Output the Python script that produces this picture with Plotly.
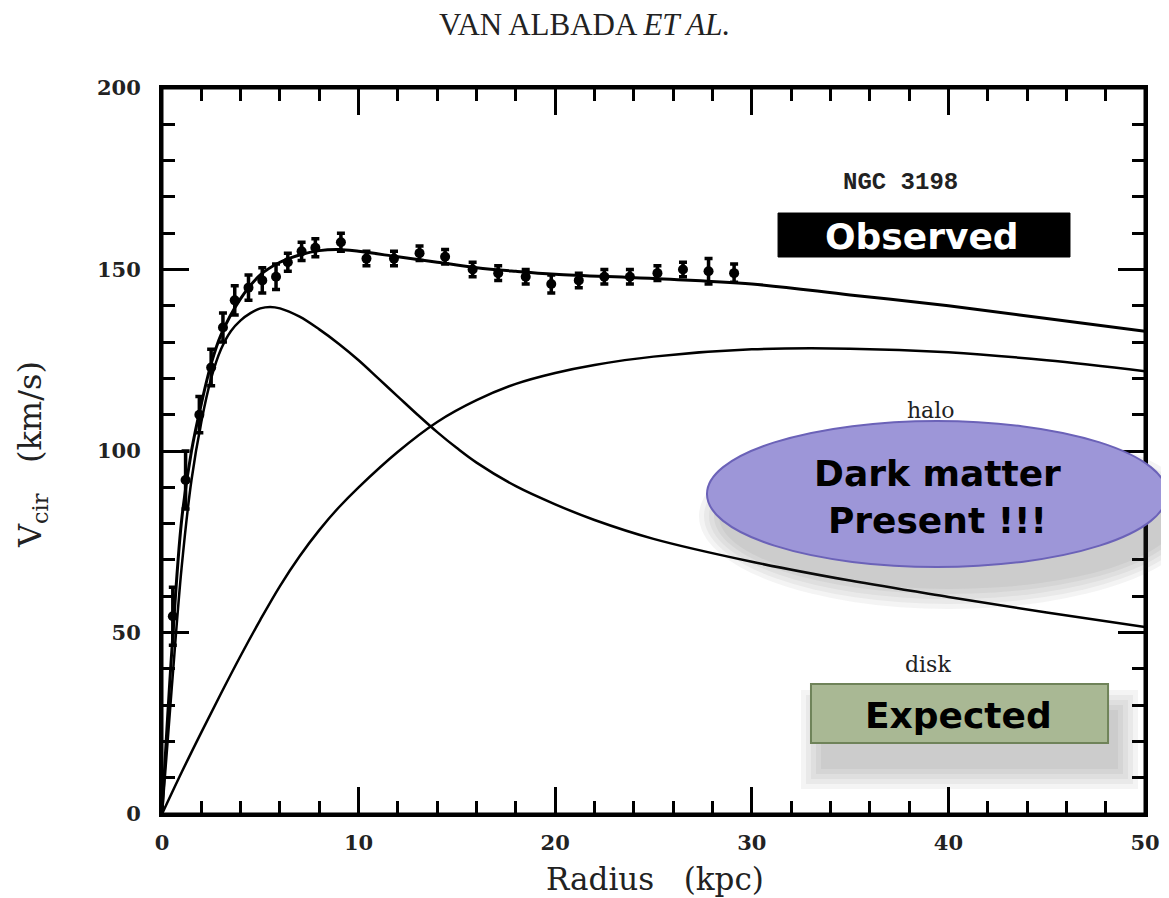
"""NGC 3198 rotation curve (van Albada et al.) with annotations."""

import plotly.graph_objects as go

# observed rotation velocities
r_obs = [0.55, 1.2, 1.9, 2.5, 3.1, 3.7, 4.4, 5.1, 5.8, 6.4, 7.1, 7.8, 9.1,
         10.4, 11.8, 13.1, 14.4, 15.8, 17.1, 18.5, 19.8, 21.2, 22.5, 23.8,
         25.2, 26.5, 27.8, 29.1]
v_obs = [54.5, 92, 110, 123, 134, 141.5, 145, 147, 148, 152, 155, 156, 157.5,
         153, 153, 154.5, 153.5, 150, 149, 148, 146, 147, 148, 148,
         149, 150, 149.5, 149]
v_err = [8, 8, 5, 5, 4, 4, 3.5, 3.5, 3.5, 2.5, 2.5, 2.5, 2.5,
         2, 2, 2, 2, 2, 2, 2, 2.5, 2, 2, 2,
         2, 2, 3.5, 2.5]

# model curves
r_fit = [0, 0.5, 1, 1.5, 2, 2.5, 3, 4, 5, 6, 7, 8, 9, 10, 12, 14, 16, 18, 20,
         25, 30, 35, 40, 45, 50]
v_fit = [0, 45, 81, 100, 113, 124, 132, 142, 148.5, 152, 154, 155.2, 155.5,
         155, 153.5, 152, 150.5, 149.5, 148.7, 147.5, 146, 143, 140, 136.5, 133]

r_disk = [0, 0.5, 1, 1.5, 2, 2.5, 3, 3.5, 4, 4.5, 5, 5.5, 6, 7, 8, 9, 10, 11,
          12, 13, 14, 15, 16, 18, 20, 22, 25, 30, 35, 40, 45, 50]
v_disk = [0, 35, 68, 92, 108, 120, 128, 133, 136, 138, 139.3, 139.7, 139.3,
          137, 133.5, 129.5, 125, 120, 115, 110, 105.2, 100.8, 96.8, 90.3,
          85.3, 81, 75.8, 69.5, 64.3, 59.8, 55.5, 51.5]

r_halo = [0, 1, 2, 3, 4, 5, 6, 7, 8, 9, 10, 12, 14, 16, 18, 20, 22, 25, 30, 35,
          40, 45, 50]
v_halo = [0, 11.5, 22.5, 33.2, 43.6, 53.5, 62.8, 71, 78.2, 84.5, 90, 99.8,
          108, 114, 118.5, 121.5, 123.7, 126, 128, 128.2, 127.2, 125, 122]

x_ticks = [0, 10, 20, 30, 40, 50]
y_ticks = [0, 50, 100, 150, 200]

SERIF = "DejaVu Serif"
BOLD = "DejaVu Sans"

fig = go.Figure()

line_style = dict(color='black', width=2.5)
fig.add_trace(go.Scatter(x=r_disk, y=v_disk, mode='lines', line=line_style,
                         line_shape='spline', showlegend=False))
fig.add_trace(go.Scatter(x=r_halo, y=v_halo, mode='lines', line=line_style,
                         line_shape='spline', showlegend=False))
fig.add_trace(go.Scatter(x=r_fit, y=v_fit, mode='lines',
                         line=dict(color='black', width=3),
                         line_shape='spline', showlegend=False))
fig.add_trace(go.Scatter(
    x=r_obs, y=v_obs, mode='markers', showlegend=False,
    marker=dict(color='black', size=10),
    error_y=dict(type='data', array=v_err, color='black', thickness=3.5, width=4)))

# curve label drawn as a trace so the ellipse can overlap it
fig.add_trace(go.Scatter(x=[39.1], y=[110.5], mode='text', text=['halo'],
                         textfont=dict(family=SERIF, size=22, color='#222'),
                         showlegend=False))

axis_common = dict(showline=True, linewidth=3, linecolor='black', mirror='ticks',
                   ticks='inside', tickwidth=2.5, tickcolor='black', ticklen=27,
                   showgrid=False, zeroline=False, automargin=False,
                   tickfont=dict(family=SERIF, size=21, color='#222',
                                 weight='bold'))

fig.update_xaxes(range=[0, 50], tickvals=x_ticks, ticklabelstandoff=8,
                 ticklabeloverflow='allow',
                 minor=dict(dtick=2, ticks='inside', ticklen=13, tickwidth=2.5,
                            tickcolor='black', showgrid=False),
                 **axis_common)
fig.update_yaxes(range=[0, 200], tickvals=y_ticks, ticklabelstandoff=14,
                 minor=dict(dtick=10, ticks='inside', ticklen=13, tickwidth=2.5,
                            tickcolor='black', showgrid=False),
                 **axis_common)

PW, PH = 983.0, 726.0  # plot area in pixels, for paper offsets


def shadow(kind, x0, x1, y0, y1, dx, dy):
    out = []
    for e in [20, 15, 10, 5, 0]:
        ex, ey = e / PW, e / PH
        out.append(dict(type=kind, xref='paper', yref='paper',
                        x0=x0 + dx / PW - ex, x1=x1 + dx / PW + ex,
                        y0=y0 - dy / PH - ey, y1=y1 - dy / PH + ey,
                        fillcolor='rgba(60,60,60,0.055)', line=dict(width=0),
                        layer='above'))
    return out


# plot frame first, so the callouts are drawn over it
shapes = [dict(type='rect', xref='paper', yref='paper', x0=0, x1=1, y0=0, y1=1,
               line=dict(color='black', width=3), fillcolor='rgba(0,0,0,0)',
               layer='above')]
shapes += shadow('circle', 0.5544, 1.0224, 0.3402, 0.5413, 12, 22)
shapes += shadow('rect', 0.6602, 0.9624, 0.0978, 0.1791, 10, 26)
shapes += [
    dict(type='circle', xref='paper', yref='paper',
         x0=0.5544, x1=1.0224, y0=0.3402, y1=0.5413,
         fillcolor='#9d96d8', line=dict(color='#6b62b8', width=2), layer='above'),
    dict(type='rect', xref='paper', yref='paper',
         x0=0.6602, x1=0.9624, y0=0.0978, y1=0.1791,
         fillcolor='#a9b894', line=dict(color='#6f8359', width=2), layer='above'),
    dict(type='rect', xref='paper', yref='paper',
         x0=0.6267, x1=0.9237, y0=0.7672, y1=0.8278,
         fillcolor='black', line=dict(color='black', width=1), layer='above'),
]

annotations = [
    dict(text='VAN ALBADA <i>ET AL.</i>', x=0.4293, y=1.087,
         font=dict(family='Liberation Serif', size=31, color='#222')),
    dict(text='<b>NGC 3198</b>', x=0.751, y=0.8705,
         font=dict(family='Liberation Mono', size=24, color='#222')),
    dict(text='<b>Observed</b>', x=0.7731, y=0.7948,
         font=dict(family=BOLD, size=36, color='white')),
    dict(text='<b>Dark matter<br>Present !!!</b>', x=0.7894, y=0.4366,
         font=dict(family=BOLD, size=36, color='black')),
    dict(text='disk', x=0.7792, y=0.2066,
         font=dict(family=SERIF, size=22, color='#222')),
    dict(text='<b>Expected</b>', x=0.8098, y=0.135,
         font=dict(family=BOLD, size=36, color='black')),
    dict(text='Radius\u00a0\u00a0\u00a0(kpc)', x=0.5015, y=-0.0895,
         font=dict(family=SERIF, size=31, color='#222')),
    dict(text='V<sub>cir</sub>\u00a0\u00a0\u00a0(km/s)', x=-0.1322, y=0.4945,
         textangle=-90, font=dict(family=SERIF, size=32, color='#222')),
]
for a in annotations:
    a.update(xref='paper', yref='paper', showarrow=False,
             xanchor='center', yanchor='middle')

# the page body adds an 8px offset, so the figure is 8px smaller than the window
fig.update_layout(
    width=1161, height=890,
    template='plotly_white',
    paper_bgcolor='white', plot_bgcolor='white',
    margin=dict(l=154, r=24, t=80, b=84),
    shapes=shapes,
    annotations=annotations,
)

fig.write_html("out.html")
